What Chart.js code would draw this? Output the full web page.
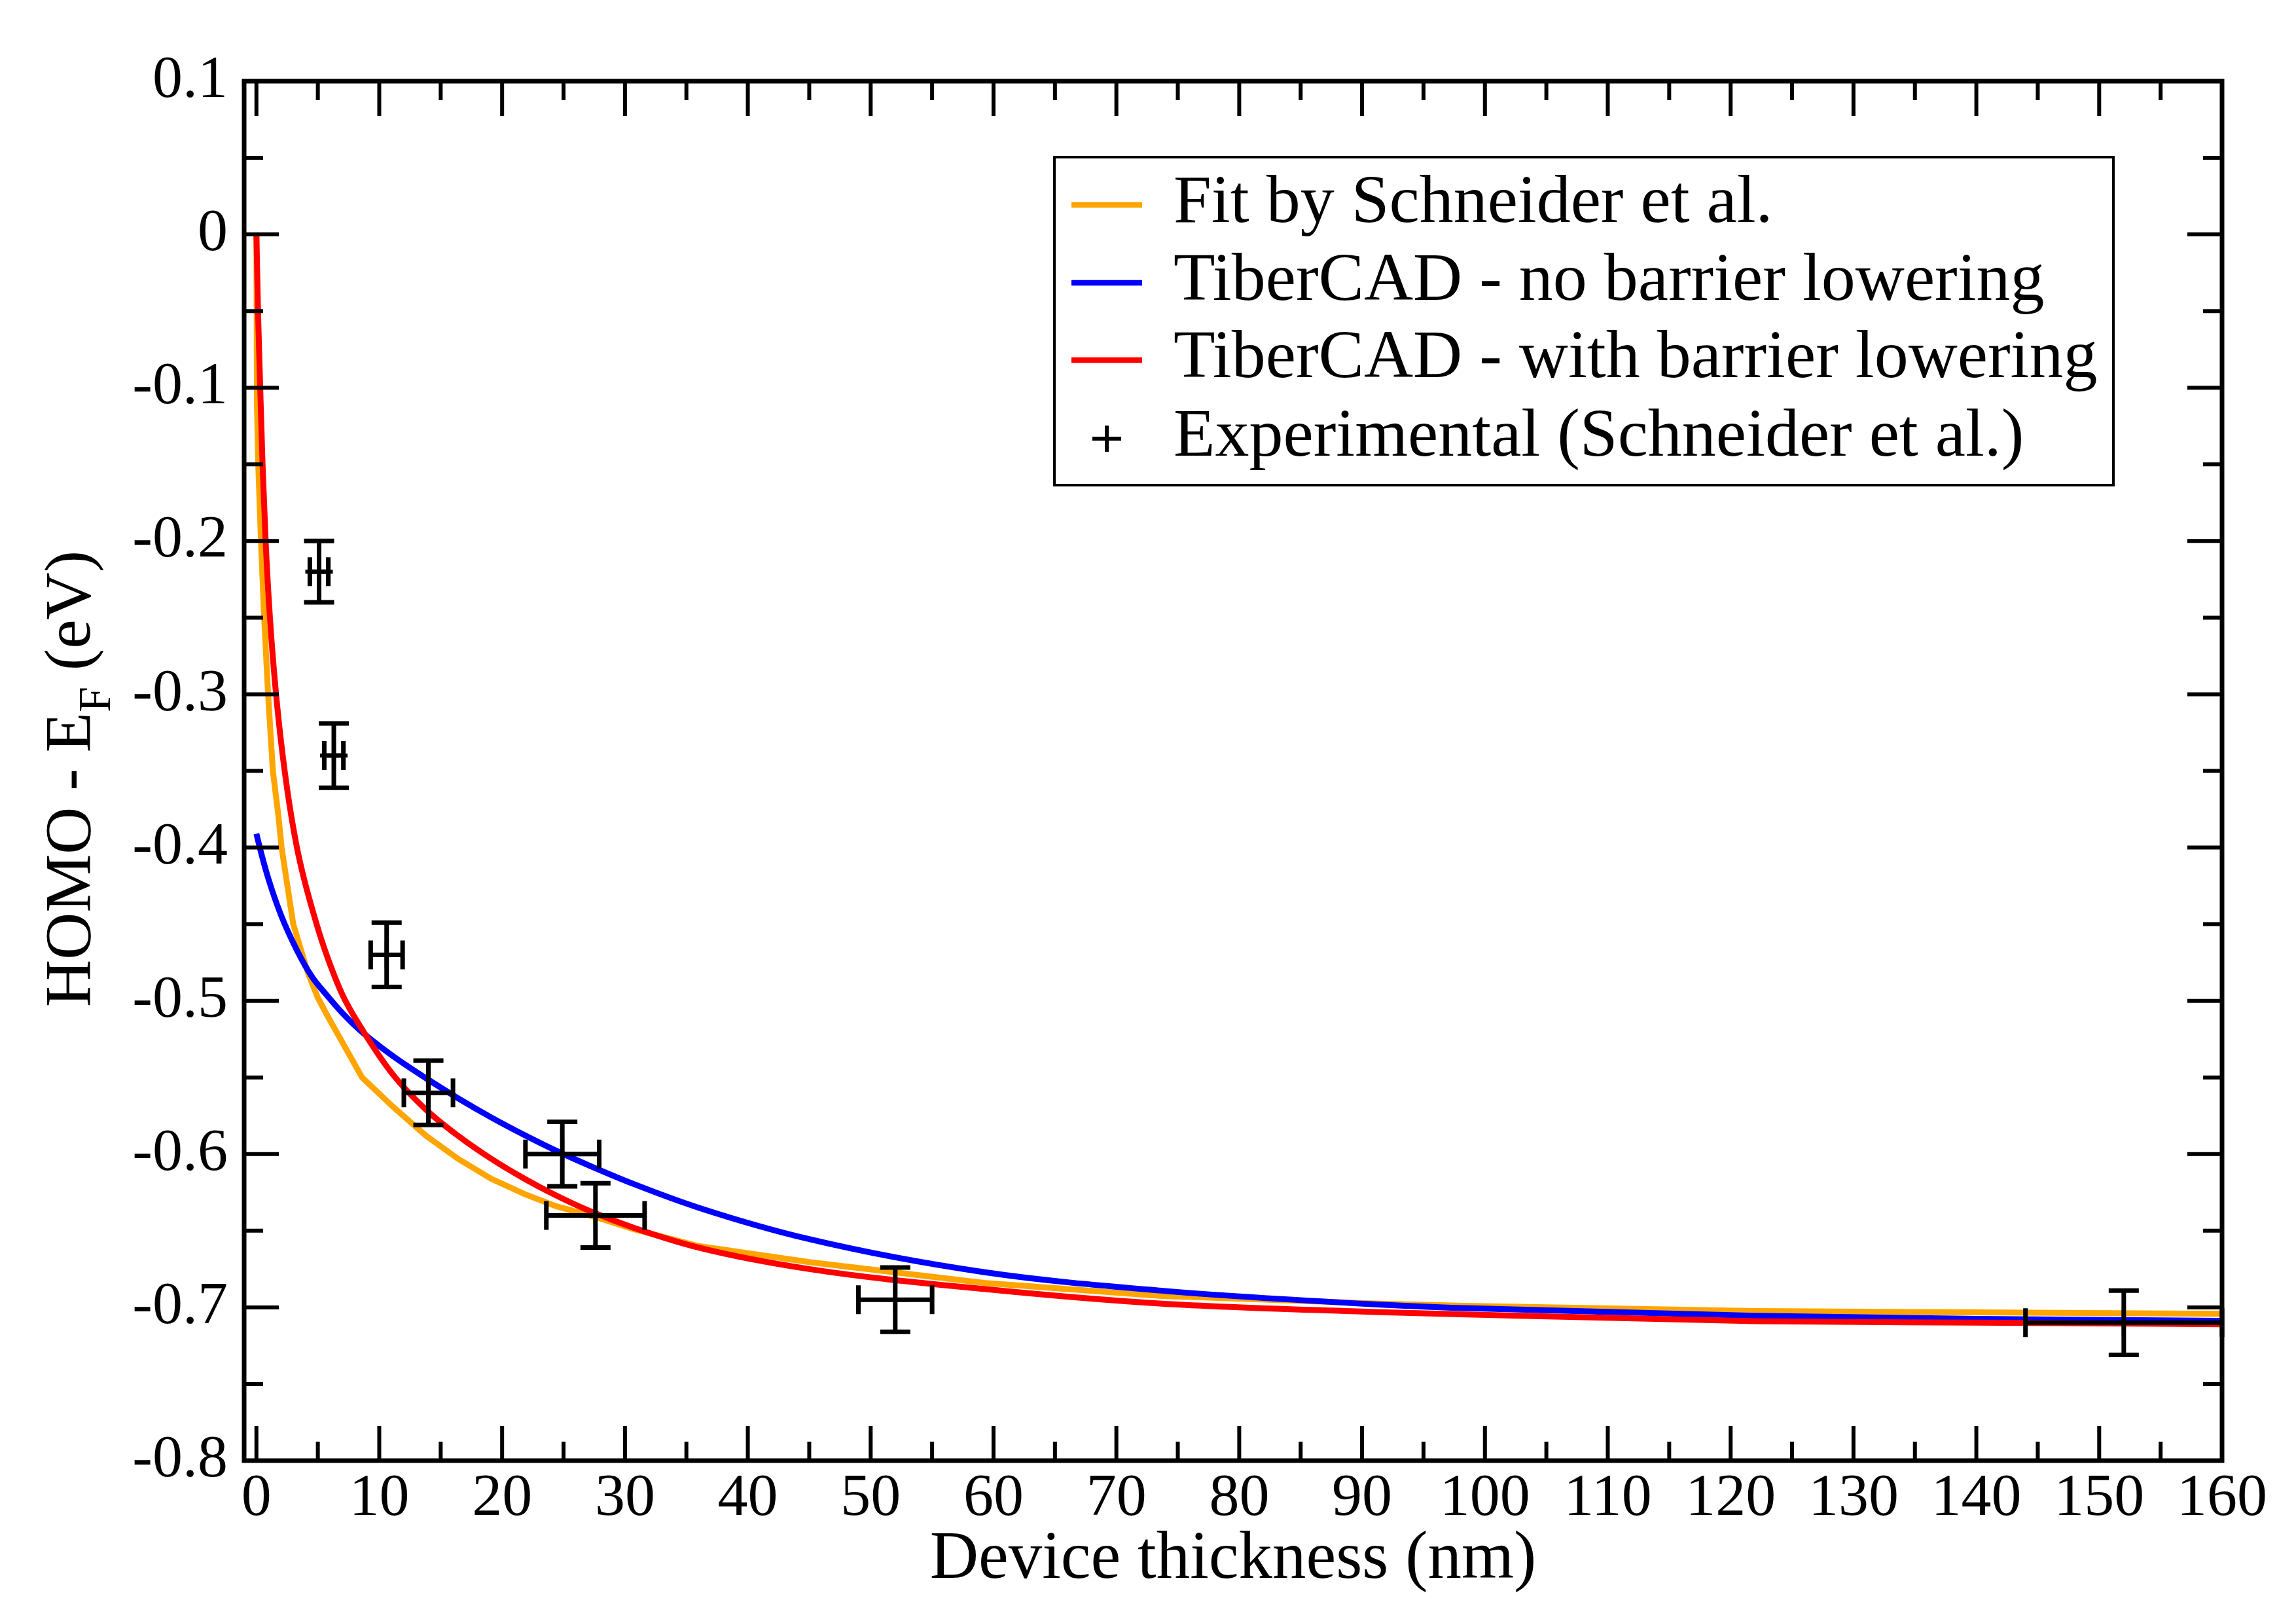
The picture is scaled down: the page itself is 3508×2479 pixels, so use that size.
<!DOCTYPE html>
<html>
<head>
<meta charset="utf-8">
<script src="https://cdn.jsdelivr.net/npm/chart.js@4.4.1/dist/chart.umd.min.js"></script>
<style>
  html, body { margin: 0; padding: 0; background: #fff; }
  #wrap { width: 3508px; height: 2479px; }
</style>
</head>
<body>
<div id="wrap"><canvas id="myChart" width="3508" height="2479"></canvas></div>
<script>
// Fit by Schneider et al.
const fitX = [0, 0.02, 0.04, 0.15, 0.37, 0.63, 0.95, 1.34, 1.8, 2.05, 3.0, 4.2, 5.0, 5.8, 8.6, 11.1, 13.8, 16.4, 19.1, 21.8, 24.4, 28, 30.7, 36, 45, 59.2, 73.5, 91, 98.3, 122, 160];
const fitY = [0, -0.05, -0.11, -0.15, -0.2, -0.25, -0.3, -0.35, -0.38, -0.4, -0.45, -0.482, -0.498, -0.51, -0.55, -0.569, -0.588, -0.603, -0.616, -0.626, -0.634, -0.642, -0.649, -0.66, -0.6705, -0.684, -0.6925, -0.6975, -0.699, -0.7024, -0.7042];

// TiberCAD - no barrier lowering
const noBlX = [0, 0.4, 1.0, 2.0, 3.3, 4.5, 5.8, 7.0, 8.4, 11.1, 13.8, 16.4, 19.1, 21.8, 24.4, 27.1, 30.7, 36, 45, 59.2, 73.5, 91, 98.3, 122, 140, 160];
const noBlY = [-0.391, -0.404, -0.421, -0.444, -0.467, -0.484, -0.497, -0.508, -0.519, -0.536, -0.5505, -0.5635, -0.576, -0.5875, -0.5978, -0.6075, -0.6195, -0.635, -0.6555, -0.677, -0.689, -0.698, -0.7005, -0.7055, -0.7075, -0.7088];

// TiberCAD - with barrier lowering
const blX = [0, 0.13, 0.31, 0.5, 0.75, 1.1, 1.6, 2.3, 3.3, 4.9, 5.8, 7.0, 8.4, 11.1, 13.8, 16.4, 19.1, 21.8, 24.4, 27.1, 30.7, 36, 45, 59.2, 73.5, 91, 98, 122, 140, 160];
const blY = [0, -0.05, -0.1, -0.15, -0.2, -0.25, -0.3, -0.35, -0.4, -0.45, -0.472, -0.496, -0.516, -0.548, -0.571, -0.588, -0.603, -0.616, -0.627, -0.637, -0.648, -0.661, -0.675, -0.688, -0.6975, -0.703, -0.7045, -0.709, -0.710, -0.711];

// Experimental (Schneider et al.)
const expX = [5.1, 6.3, 10.6, 14, 24.9, 27.6, 52, 152];
const expY = [-0.22, -0.34, -0.47, -0.56, -0.60, -0.64, -0.695, -0.71];
const expXErr = [0.75, 0.78, 1.3, 2, 3, 4, 3, 8];
const expYErr = [0.02, 0.021, 0.021, 0.021, 0.021, 0.021, 0.021, 0.021];

const xTicks = [0, 10, 20, 30, 40, 50, 60, 70, 80, 90, 100, 110, 120, 130, 140, 150, 160];
const xTickLabels = ['0', '10', '20', '30', '40', '50', '60', '70', '80', '90', '100', '110', '120', '130', '140', '150', '160'];
const yTicks = [-0.8, -0.7, -0.6, -0.5, -0.4, -0.3, -0.2, -0.1, 0, 0.1];
const yTickLabels = ['-0.8', '-0.7', '-0.6', '-0.5', '-0.4', '-0.3', '-0.2', '-0.1', '0', '0.1'];

const FONT = "'Liberation Serif', 'DejaVu Serif', serif";

function zip(xs, ys) {
  return xs.map((x, i) => ({x: x, y: ys[i]}));
}

function midpoints(arr) {
  const out = [];
  for (let i = 0; i < arr.length - 1; i++) out.push((arr[i] + arr[i + 1]) / 2);
  return out;
}

// error bars for the experimental points
const errorBars = {
  id: 'errorBars',
  afterDatasetsDraw(chart) {
    const {ctx, scales: {x, y}} = chart;
    ctx.save();
    ctx.strokeStyle = '#000';
    ctx.lineWidth = 7;
    ctx.lineCap = 'butt';
    for (let i = 0; i < expX.length; i++) {
      const px = x.getPixelForValue(expX[i]);
      const py = y.getPixelForValue(expY[i]);
      const top = y.getPixelForValue(expY[i] + expYErr[i]);
      const bot = y.getPixelForValue(expY[i] - expYErr[i]);
      const lft = x.getPixelForValue(expX[i] - expXErr[i]);
      const rgt = x.getPixelForValue(expX[i] + expXErr[i]);
      ctx.beginPath();
      ctx.moveTo(px, top); ctx.lineTo(px, bot);
      ctx.moveTo(px - 23, top); ctx.lineTo(px + 23, top);
      ctx.moveTo(px - 23, bot); ctx.lineTo(px + 23, bot);
      ctx.moveTo(lft, py); ctx.lineTo(rgt, py);
      ctx.moveTo(lft, py - 22); ctx.lineTo(lft, py + 22);
      ctx.moveTo(rgt, py - 22); ctx.lineTo(rgt, py + 22);
      ctx.stroke();
    }
    ctx.restore();
  }
};

// frame, inward ticks on all sides, y title, legend
const frameAndLegend = {
  id: 'frameAndLegend',
  afterDraw(chart) {
    const {ctx, chartArea: a, scales: {x, y}} = chart;
    ctx.save();
    ctx.strokeStyle = '#000';

    // ticks
    ctx.lineWidth = 6;
    ctx.beginPath();
    const xt = [[xTicks, 53], [midpoints(xTicks), 29]];
    xt.forEach(([vals, len]) => {
      vals.forEach(v => {
        const px = x.getPixelForValue(v);
        ctx.moveTo(px, a.bottom); ctx.lineTo(px, a.bottom - len);
        ctx.moveTo(px, a.top); ctx.lineTo(px, a.top + len);
      });
    });
    const yt = [[yTicks, 53], [midpoints(yTicks), 29]];
    yt.forEach(([vals, len]) => {
      vals.forEach(v => {
        const py = y.getPixelForValue(v);
        ctx.moveTo(a.left, py); ctx.lineTo(a.left + len, py);
        ctx.moveTo(a.right, py); ctx.lineTo(a.right - len, py);
      });
    });
    ctx.stroke();

    // frame
    ctx.lineWidth = 7;
    ctx.strokeRect(a.left, a.top, a.right - a.left, a.bottom - a.top);

    // y title with subscript
    ctx.fillStyle = '#000';
    ctx.translate(137, (a.top + a.bottom) / 2 + 12);
    ctx.rotate(-Math.PI / 2);
    ctx.textBaseline = 'alphabetic';
    ctx.textAlign = 'left';
    const big = '100px ' + FONT, small = '70px ' + FONT;
    ctx.font = big;
    const w1 = ctx.measureText('HOMO - E').width;
    const w3 = ctx.measureText(' (eV)').width;
    ctx.font = small;
    const w2 = ctx.measureText('F').width;
    let sx = -(w1 + w2 + w3) / 2;
    ctx.font = big;
    ctx.fillText('HOMO - E', sx, 0);
    ctx.font = small;
    ctx.fillText('F', sx + w1, 31);
    ctx.font = big;
    ctx.fillText(' (eV)', sx + w1 + w2, 0);
    ctx.setTransform(1, 0, 0, 1, 0, 0);

    // legend
    ctx.lineWidth = 4;
    ctx.strokeRect(1611, 240, 1618, 501);
    const rows = [313, 432, 550, 670];
    ctx.font = '104px ' + FONT;
    ctx.textAlign = 'left';
    ctx.textBaseline = 'alphabetic';
    chart.data.datasets.forEach((ds, i) => {
      const ry = rows[i];
      if (ds.showLine) {
        ctx.strokeStyle = ds.borderColor;
        ctx.lineWidth = 8.5;
        ctx.beginPath();
        ctx.moveTo(1637, ry); ctx.lineTo(1745, ry);
        ctx.stroke();
      } else {
        ctx.strokeStyle = '#000';
        ctx.lineWidth = 6;
        ctx.beginPath();
        ctx.moveTo(1669, ry); ctx.lineTo(1713, ry);
        ctx.moveTo(1691, ry - 20); ctx.lineTo(1691, ry + 20);
        ctx.stroke();
      }
      ctx.fillStyle = '#000';
      ctx.fillText(ds.label, 1793, ry + 26);
    });
    ctx.restore();
  }
};

const ctx = document.getElementById('myChart').getContext('2d');
const myChart = new Chart(ctx, {
  type: 'scatter',
  data: {
    datasets: [{
      label: 'Fit by Schneider et al.',
      data: zip(fitX, fitY),
      showLine: true,
      borderColor: '#ffa500',
      borderWidth: 9,
      pointRadius: 0,
      tension: 0,
      order: 3
    }, {
      label: 'TiberCAD - no barrier lowering',
      data: zip(noBlX, noBlY),
      showLine: true,
      borderColor: '#0000ff',
      borderWidth: 9,
      pointRadius: 0,
      cubicInterpolationMode: 'monotone',
      order: 2
    }, {
      label: 'TiberCAD - with barrier lowering',
      data: zip(blX, blY),
      showLine: true,
      borderColor: '#ff0000',
      borderWidth: 9,
      pointRadius: 0,
      cubicInterpolationMode: 'monotone',
      order: 1
    }, {
      label: 'Experimental (Schneider et al.)',
      data: zip(expX, expY),
      showLine: false,
      pointStyle: 'cross',
      pointRadius: 21,
      borderColor: '#000',
      borderWidth: 6,
      order: 0
    }]
  },
  options: {
    responsive: false,
    animation: false,
    devicePixelRatio: 1,
    layout: { padding: { top: 124, right: 113, left: 0, bottom: 0 } },
    plugins: {
      legend: { display: false },
      tooltip: { enabled: false }
    },
    scales: {
      x: {
        type: 'linear',
        min: -1,
        max: 160,
        grid: { display: false, drawTicks: false },
        border: { display: false },
        afterBuildTicks: s => { s.ticks = xTicks.map(v => ({value: v})); },
        afterFit: s => { s.height = 248; },
        ticks: {
          padding: 4,
          maxRotation: 0,
          autoSkip: false,
          color: '#000',
          font: { family: FONT, size: 92 },
          callback: (v, i) => xTickLabels[i]
        },
        title: {
          display: true,
          text: 'Device thickness (nm)',
          color: '#000',
          font: { family: FONT, size: 103 },
          padding: { top: 0, bottom: 34 }
        }
      },
      y: {
        type: 'linear',
        min: -0.8,
        max: 0.1,
        grid: { display: false, drawTicks: false },
        border: { display: false },
        afterBuildTicks: s => { s.ticks = yTicks.map(v => ({value: v})); },
        afterFit: s => { s.width = 373; },
        ticks: {
          padding: 25,
          autoSkip: false,
          color: '#000',
          font: { family: FONT, size: 92 },
          callback: (v, i) => yTickLabels[i]
        }
      }
    }
  },
  plugins: [errorBars, frameAndLegend]
});
</script>
</body>
</html>
